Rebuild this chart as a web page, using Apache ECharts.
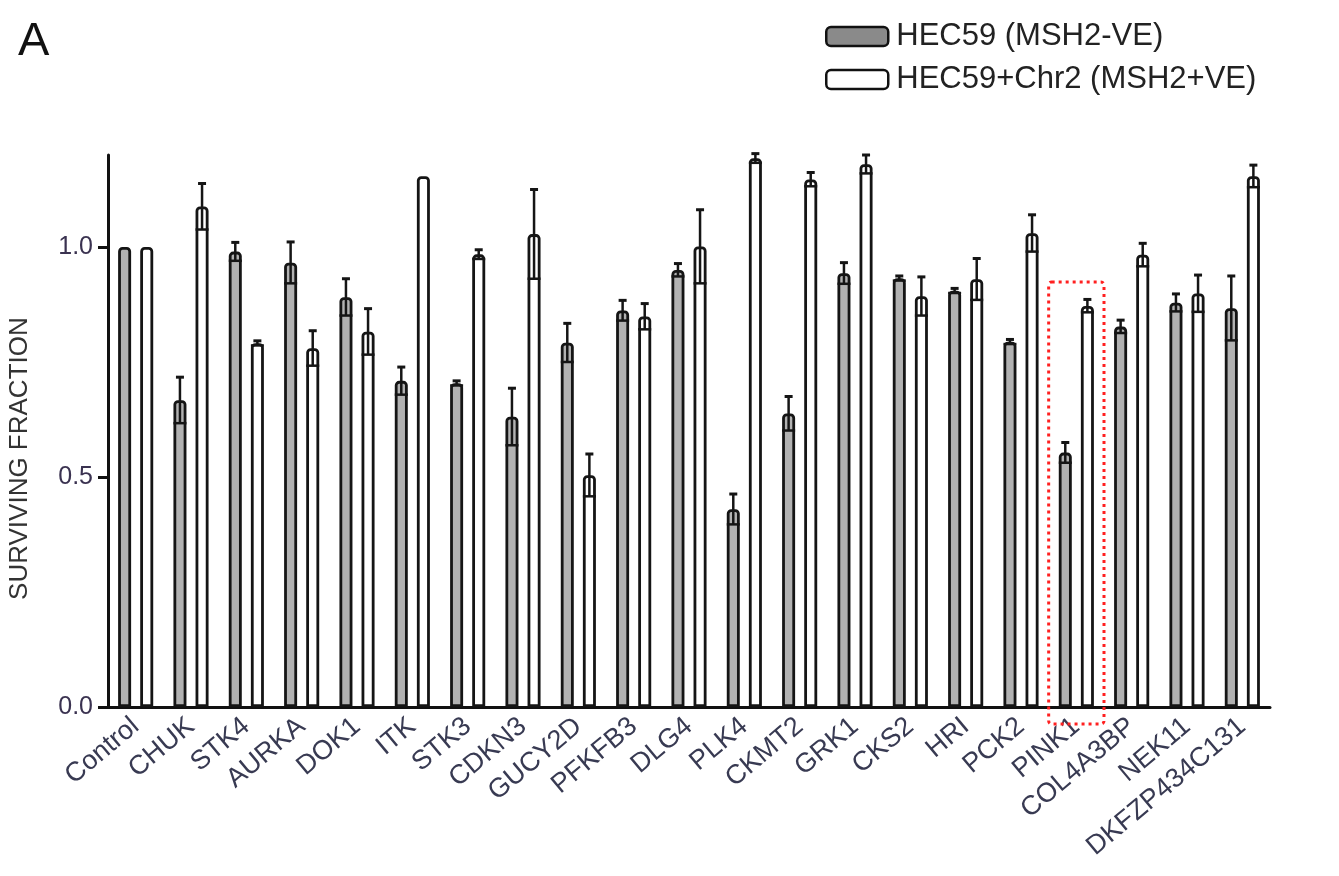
<!DOCTYPE html>
<html>
<head>
<meta charset="utf-8">
<script src="https://cdn.jsdelivr.net/npm/echarts@6/dist/echarts.min.js"></script>
<style>
  html, body { margin: 0; padding: 0; background: #fff; }
  #main { width: 1339px; height: 876px; }
</style>
</head>
<body>
<div id="main"></div>
<script>
const categories = ['Control', 'CHUK', 'STK4', 'AURKA', 'DOK1', 'ITK', 'STK3', 'CDKN3', 'GUCY2D', 'PFKFB3', 'DLG4', 'PLK4', 'CKMT2', 'GRK1', 'CKS2', 'HRI', 'PCK2', 'PINK1', 'COL4A3BP', 'NEK11', 'DKFZP434C131'];
const hec59 = [1.00, 0.667, 0.990, 0.966, 0.891, 0.709, 0.704, 0.631, 0.792, 0.862, 0.950, 0.430, 0.638, 0.943, 0.932, 0.905, 0.794, 0.553, 0.827, 0.879, 0.867];
const hec59Err = [0, 0.050, 0.020, 0.045, 0.040, 0.030, 0.005, 0.062, 0.042, 0.022, 0.014, 0.033, 0.037, 0.023, 0.005, 0.005, 0.005, 0.022, 0.014, 0.019, 0.070];
const chr2 = [1.00, 1.088, 0.791, 0.780, 0.816, 1.154, 0.984, 1.028, 0.504, 0.849, 1.001, 1.193, 1.147, 1.180, 0.893, 0.930, 1.030, 0.872, 0.983, 0.899, 1.154];
const chr2Err = [0, 0.050, 0.005, 0.038, 0.050, 0, 0.010, 0.097, 0.046, 0.028, 0.080, 0.010, 0.015, 0.020, 0.042, 0.045, 0.040, 0.014, 0.025, 0.040, 0.024];
const yTickValues = [0, 0.5, 1.0];
const seriesNames = ['HEC59 (MSH2-VE)', 'HEC59+Chr2 (MSH2+VE)'];
const highlighted = 'PINK1';

const FONT = '"Liberation Sans", Arial, Helvetica, sans-serif';
const BAR_W = 13;
const BAR_GAP = 0.7;
const OFFSET = BAR_W * (1 + BAR_GAP) / 2;

function errSeries(vals, errs, dir) {
  return {
    type: 'custom',
    z: 5,
    silent: true,
    data: vals.map((v, i) => [i, v, errs[i]]),
    encode: { x: 0, y: 1 },
    renderItem: function (params, api) {
      const i = api.value(0), m = api.value(1), e = api.value(2);
      if (!(e > 0)) return null;
      const c = api.coord([i, m]);
      const x = c[0] + dir * OFFSET;
      const top = api.coord([i, m + e])[1];
      const bot = api.coord([i, m - e])[1];
      const st = { stroke: '#151515', lineWidth: 2.5 };
      return {
        type: 'group',
        children: [
          { type: 'line', shape: { x1: x, y1: top, x2: x, y2: bot }, style: st },
          { type: 'line', shape: { x1: x - 4, y1: top, x2: x + 4, y2: top }, style: { stroke: '#151515', lineWidth: 3 } },
          { type: 'line', shape: { x1: x - 6.5, y1: bot, x2: x + 6.5, y2: bot }, style: st }
        ]
      };
    }
  };
}

const chart = echarts.init(document.getElementById('main'));
chart.setOption({
  backgroundColor: '#fff',
  animation: false,
  title: {
    text: 'A', left: 13, top: 14,
    textStyle: { fontFamily: FONT, fontSize: 47, fontWeight: 'normal', color: '#111' }
  },
  legend: {
    left: 820, top: 16, orient: 'vertical',
    itemWidth: 62, itemHeight: 19, itemGap: 12,
    textStyle: { fontFamily: FONT, fontSize: 31, color: '#222', lineHeight: 31, padding: [0, 0, 0, 3] },
    data: [
      { name: seriesNames[0], itemStyle: { color: '#8a8a8a', borderColor: '#111', borderWidth: 2.5, borderRadius: 3 } },
      { name: seriesNames[1], itemStyle: { color: '#fff', borderColor: '#111', borderWidth: 2.5, borderRadius: 3 } }
    ]
  },
  grid: { left: 108, right: 69, top: 155, bottom: 169 },
  xAxis: {
    type: 'category',
    data: categories,
    axisLine: { lineStyle: { color: '#111', width: 3 } },
    axisTick: { alignWithLabel: true, length: 12, lineStyle: { color: '#111', width: 3 } },
    axisLabel: {
      interval: 0, rotate: 40, margin: 16,
      fontFamily: FONT, fontSize: 27, color: '#383a52'
    }
  },
  yAxis: {
    type: 'value',
    min: 0, max: 1.2, interval: 0.5,
    splitLine: { show: false },
    axisLine: { show: true, lineStyle: { color: '#111', width: 3 } },
    axisTick: { show: true, length: 10, lineStyle: { color: '#111', width: 3 }, customValues: yTickValues },
    axisLabel: {
      margin: 15, fontFamily: FONT, fontSize: 25, color: '#3a3250',
      customValues: yTickValues,
      formatter: v => v.toFixed(1)
    }
  },
  series: [
    {
      name: seriesNames[0], type: 'bar', data: hec59,
      barWidth: BAR_W, barGap: (BAR_GAP * 100) + '%',
      itemStyle: { color: '#b2b2b2', borderColor: '#151515', borderWidth: 2.8, borderRadius: [3, 3, 0, 0] }
    },
    {
      name: seriesNames[1], type: 'bar', data: chr2,
      barWidth: BAR_W, barGap: (BAR_GAP * 100) + '%',
      itemStyle: { color: '#ffffff', borderColor: '#151515', borderWidth: 2.8, borderRadius: [3, 3, 0, 0] }
    },
    errSeries(hec59, hec59Err, -1),
    errSeries(chr2, chr2Err, 1)
  ]
});

// annotation box around highlighted category, positioned through the axes
const cx = chart.convertToPixel({ xAxisIndex: 0 }, highlighted);
const band = chart.convertToPixel({ xAxisIndex: 0 }, categories[1]) - chart.convertToPixel({ xAxisIndex: 0 }, categories[0]);
const yTop = chart.convertToPixel({ yAxisIndex: 0 }, 0.924);
const y0 = chart.convertToPixel({ yAxisIndex: 0 }, 0);
const yMid = chart.convertToPixel({ yAxisIndex: 0 }, 0.54);

chart.setOption({
  graphic: [
    {
      type: 'rect', z: 10, silent: true,
      shape: { x: cx - band / 2, y: yTop, width: band, height: y0 + 17 - yTop, r: 3 },
      style: { fill: 'none', stroke: '#ff2020', lineWidth: 3, lineDash: [3, 4] }
    },
    {
      type: 'text', silent: true,
      x: 20, y: yMid, rotation: Math.PI / 2,
      style: {
        text: 'SURVIVING FRACTION', align: 'center', verticalAlign: 'middle',
        font: '26px ' + FONT, fill: '#333'
      }
    }
  ]
});
</script>
</body>
</html>
